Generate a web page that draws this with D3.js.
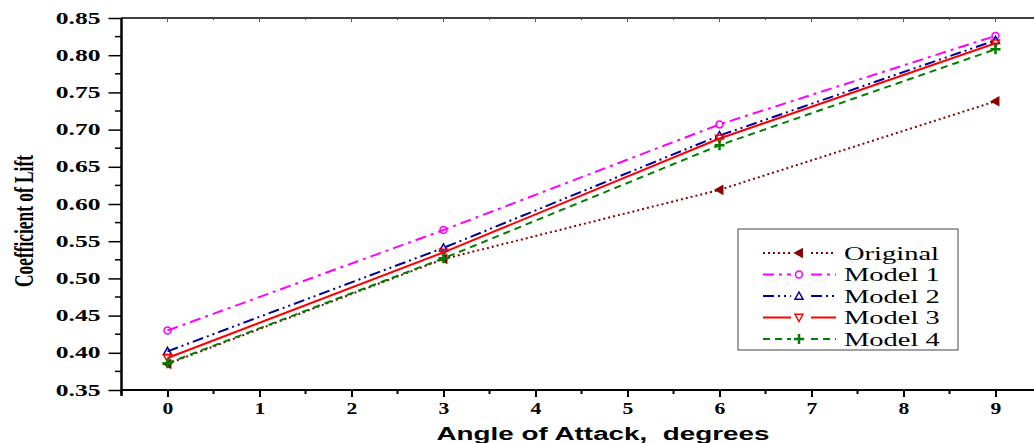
<!DOCTYPE html>
<html>
<head>
<meta charset="utf-8">
<script src="https://cdn.jsdelivr.net/npm/d3@7"></script>
<style>
  body { margin: 0; background: #fff; }
  svg { display: block; }
</style>
</head>
<body>
<div id="chart"></div>
<script>
// angles (degrees) and lift coefficients
let angles = [0, 3, 6, 9];
let original = [0.385, 0.526, 0.619, 0.738];
let model1 = [0.430, 0.565, 0.707, 0.826];
let model2 = [0.402, 0.541, 0.692, 0.820];
let model3 = [0.393, 0.535, 0.688, 0.816];
let model4 = [0.386, 0.527, 0.679, 0.808];
let series_names = ['Original', 'Model 1', 'Model 2', 'Model 3', 'Model 4'];
let x_ticks = [0, 1, 2, 3, 4, 5, 6, 7, 8, 9];
let y_ticks = [0.35, 0.40, 0.45, 0.50, 0.55, 0.60, 0.65, 0.70, 0.75, 0.80, 0.85];

let chart_width = 1034;
let chart_height = 443;

let series = [
  { name: series_names[0], values: original, color: '#8b0000', dash: '2,3', marker: 'left' },
  { name: series_names[1], values: model1, color: '#ff00ff', dash: '11,5,3,5', marker: 'circle' },
  { name: series_names[2], values: model2, color: '#000099', dash: '11,4,2,4,2,4', marker: 'up' },
  { name: series_names[3], values: model3, color: '#ff0000', dash: null, marker: 'down' },
  { name: series_names[4], values: model4, color: '#008000', dash: '7,5', marker: 'plus' }
];

let svg = d3
  .select('#chart')
  .append('svg')
  .attr('width', chart_width)
  .attr('height', chart_height);

let x_scale = d3.scaleLinear().domain([-0.5, 9.5]).range([121.5, 1041.5]);
let y_scale = d3.scaleLinear().domain([0.35, 0.85]).range([390, 18]);

//the original figure has its text stretched sideways
function stretch(sel, factor) {
  sel.each(function() {
    let len = this.getComputedTextLength();
    d3.select(this)
      .attr('textLength', len * factor)
      .attr('lengthAdjust', 'spacingAndGlyphs');
  });
}

//markers as small paths centred on 0,0
function marker_path(type) {
  let s = 4;
  if (type === 'circle') return d3.symbol(d3.symbolCircle, 38)();
  if (type === 'up') return `M0,${-s}L${s},${s * 0.8}L${-s},${s * 0.8}Z`;
  if (type === 'down') return `M0,${s}L${s},${-s * 0.8}L${-s},${-s * 0.8}Z`;
  if (type === 'left') return `M${-s},0L${s * 0.8},${-s}L${s * 0.8},${s}Z`;
  return `M${-s - 1},0L${s + 1},0M0,${-s - 1}L0,${s + 1}`;
}

//top frame line with small inward ticks
svg
  .append('line')
  .attr('x1', 121)
  .attr('x2', chart_width)
  .attr('y1', 18)
  .attr('y2', 18)
  .attr('stroke', '#000')
  .attr('stroke-width', 1.5);
let top_minor = d3.range(0, 19).map(d => d / 2);
svg
  .append('g')
  .selectAll('line')
  .data(top_minor)
  .enter()
  .append('line')
  .attr('x1', d => x_scale(d))
  .attr('x2', d => x_scale(d))
  .attr('y1', 18)
  .attr('y2', d => (d % 1 === 0 ? 22 : 20))
  .attr('stroke', '#555')
  .attr('stroke-width', 1);

//x axis
let x_axis = d3
  .axisBottom(x_scale)
  .tickValues(x_ticks)
  .tickSize(7)
  .tickPadding(6)
  .tickFormat(d3.format('d'));
let gx = svg
  .append('g')
  .attr('class', 'x-axis')
  .attr('transform', 'translate(0,390)')
  .call(x_axis);
gx.select('.domain').attr('stroke-width', 2).attr('d', 'M121,0H' + chart_width);
gx.selectAll('.tick line').attr('stroke-width', 2);
gx.selectAll('text')
  .attr('font-family', "'Liberation Serif', serif")
  .attr('font-weight', 'bold')
  .attr('font-size', 16)
  .attr('fill', '#000')
  .call(stretch, 1.35);
//x minor ticks
svg
  .append('g')
  .selectAll('line')
  .data(d3.range(-0.5, 9.6, 1))
  .enter()
  .append('line')
  .attr('x1', d => x_scale(d))
  .attr('x2', d => x_scale(d))
  .attr('y1', 390)
  .attr('y2', 394)
  .attr('stroke', '#000')
  .attr('stroke-width', 2);

//y axis
let y_axis = d3
  .axisLeft(y_scale)
  .tickValues(y_ticks)
  .tickSize(13)
  .tickPadding(8)
  .tickFormat(d3.format('.2f'));
let gy = svg
  .append('g')
  .attr('class', 'y-axis')
  .attr('transform', 'translate(121.5,0)')
  .call(y_axis);
gy.select('.domain').attr('stroke-width', 2.5).attr('d', 'M0,18V396');
gy.selectAll('.tick line').attr('stroke-width', 1.5);
gy.selectAll('text')
  .attr('font-family', "'Liberation Serif', serif")
  .attr('font-weight', 'bold')
  .attr('font-size', 16)
  .attr('fill', '#000')
  .call(stretch, 1.6);
//y minor ticks
svg
  .append('g')
  .selectAll('line')
  .data(d3.range(0.375, 0.85, 0.05))
  .enter()
  .append('line')
  .attr('x1', 115)
  .attr('x2', 121.5)
  .attr('y1', d => y_scale(d))
  .attr('y2', d => y_scale(d))
  .attr('stroke', '#000')
  .attr('stroke-width', 1.5);

//axis titles
svg
  .append('text')
  .attr('x', 603)
  .attr('y', 440)
  .attr('text-anchor', 'middle')
  .attr('font-family', "'Liberation Sans', Arial, sans-serif")
  .attr('font-weight', 'bold')
  .attr('font-size', 18)
  .attr('xml:space', 'preserve')
  .text('Angle of Attack,  degrees')
  .attr('textLength', 333)
  .attr('lengthAdjust', 'spacingAndGlyphs');

svg
  .append('text')
  .attr('transform', 'translate(33,221) rotate(-90)')
  .attr('text-anchor', 'middle')
  .attr('font-family', "'Liberation Serif', serif")
  .attr('font-weight', 'bold')
  .attr('font-size', 27)
  .attr('textLength', 132)
  .attr('lengthAdjust', 'spacingAndGlyphs')
  .text('Coefficient of Lift');

//series lines and markers
let line = d3
  .line()
  .x((d, i) => x_scale(angles[i]))
  .y(d => y_scale(d));

let plot = svg.append('g').attr('id', 'plot-area');
series.forEach(s => {
  plot
    .append('path')
    .attr('d', line(s.values))
    .attr('fill', 'none')
    .attr('stroke', s.color)
    .attr('stroke-width', 2)
    .attr('stroke-dasharray', s.dash);
  plot
    .append('g')
    .selectAll('path')
    .data(s.values)
    .enter()
    .append('path')
    .attr('transform', (d, i) => 'translate(' + x_scale(angles[i]) + ',' + y_scale(d) + ')')
    .attr('d', marker_path(s.marker))
    .attr('fill', s.marker === 'left' ? s.color : 'none')
    .attr('stroke', s.color)
    .attr('stroke-width', s.marker === 'plus' ? 2.5 : 1.5);
});

//legend
let legend = svg.append('g').attr('transform', 'translate(738,229)');
legend
  .append('rect')
  .attr('width', 220)
  .attr('height', 121)
  .attr('fill', '#fff')
  .attr('stroke', '#444')
  .attr('stroke-width', 1);
let rows = legend
  .selectAll('.row')
  .data(series)
  .enter()
  .append('g')
  .attr('class', 'row')
  .attr('transform', (d, i) => 'translate(0,' + (24 + i * 21.5) + ')');
rows
  .append('path')
  .attr('d', 'M25,0H53M73,0H98')
  .attr('stroke', d => d.color)
  .attr('stroke-width', 2)
  .attr('stroke-dasharray', d => d.dash)
  .attr('fill', 'none');
rows
  .append('path')
  .attr('transform', 'translate(61,0)')
  .attr('d', d => marker_path(d.marker))
  .attr('fill', d => (d.marker === 'left' ? d.color : 'none'))
  .attr('stroke', d => d.color)
  .attr('stroke-width', d => (d.marker === 'plus' ? 2.5 : 1.5));
rows
  .append('text')
  .attr('x', 106)
  .attr('y', 6.5)
  .attr('font-family', "'Liberation Serif', serif")
  .attr('font-size', 19)
  .attr('fill', '#000')
  .text(d => d.name)
  .call(stretch, 1.5);
</script>
</body>
</html>
